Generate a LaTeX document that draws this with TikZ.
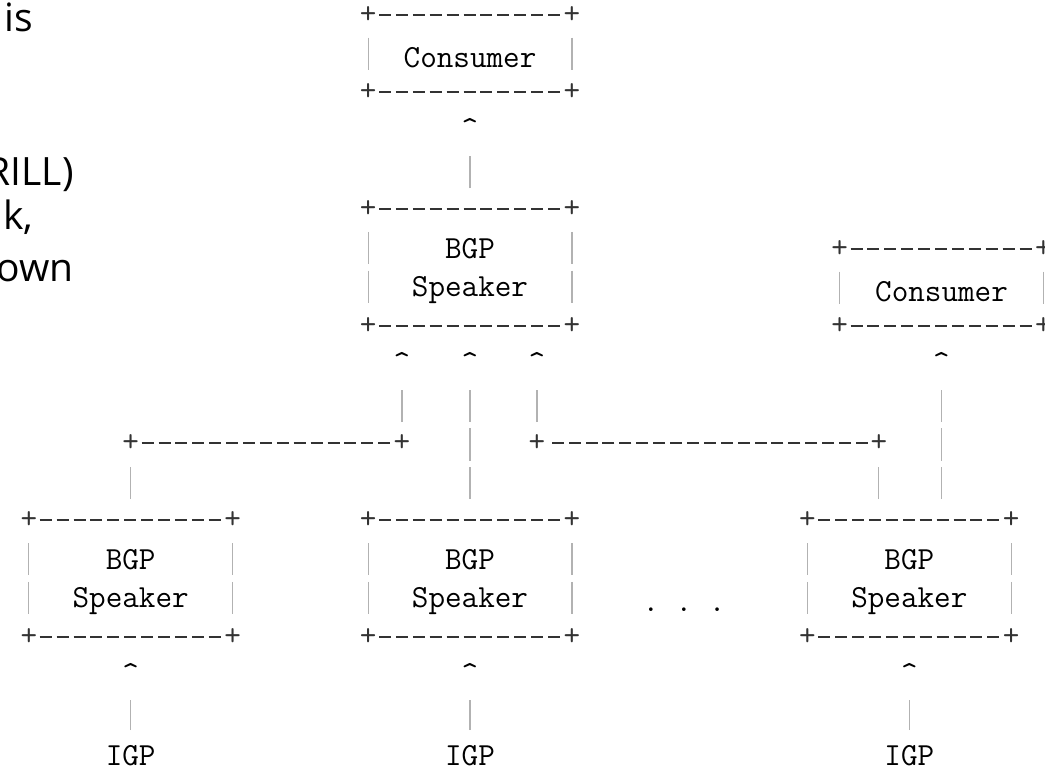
\documentclass[tikz,border=0pt]{standalone}
\usepackage{fontspec}
\newfontfamily\notefont{Open Sans}
\usetikzlibrary{positioning,calc}

\newcommand{\asciifont}{\fontsize{16.1pt}{19pt}\selectfont\ttfamily}

\begin{document}
\begin{tikzpicture}[
    x=0.5pt, y=-0.5pt,
    node distance=13pt,
    box/.style={rectangle, inner sep=0pt, align=center, text depth=0pt,
                minimum width=101.5pt, minimum height=58pt, font=\asciifont},
    thinbox/.style={box, minimum height=38.5pt, text height=14pt},
    ascii/.style={inner sep=0pt, font=\asciifont},
    cross/.style={ascii, text=black!80},
    hline/.style={draw=black!80, line width=1pt, dash pattern=on 6pt off 2.45pt,
                  shorten <=5.45pt, shorten >=5.45pt},
    vline/.style={draw=black!30, line width=0.6pt, dash pattern=on 16pt off 3.35pt},
    side/.style={vline, shorten <=11.5pt, shorten >=10.5pt},
    note/.style={inner sep=0pt, font=\fontsize{19.5pt}{24pt}\selectfont\notefont}
]
    \path[use as bounding box, clip] (0,0) rectangle (1045,770);

    % Cut-off text on the left
    \node (txtis) [note, anchor=base west] at (4,32) {is};
    \node (txtrill) [note, anchor=base east] at (74,186) {RILL)};
    \node (txtk) [note, anchor=base west] at (3,230) {k,};
    \node (txtown) [note, anchor=base east] at (74,282) {own};

    % Boxes
    \node (cons) [thinbox] at (470,53.5) {Consumer};
    \node (spk) [box, below=58.25pt of cons] {BGP\\Speaker};
    \node (consr) [thinbox] at (941.5,287.5) {Consumer};
    \node (spkm) [box, below=97.25pt of spk] {BGP\\Speaker};
    \node (spkl) [box, left=67.75pt of spkm] {BGP\\Speaker};
    \node (spkr) [box, right=117.75pt of spkm] {BGP\\Speaker};
    \node (dots) [ascii, anchor=base] at (684,611) {.\ .\ .};

    \foreach \b in {cons, spk, consr, spkl, spkm, spkr} {
        \draw[hline] (\b.north west) -- (\b.north east);
        \draw[hline] (\b.south west) -- (\b.south east);
        \draw[side] (\b.north west) -- (\b.south west);
        \draw[side] (\b.north east) -- (\b.south east);
        \foreach \c in {north west, north east, south west, south east}
            \node[cross] at (\b.\c) {+};
    }

    % IGP sources
    \node (igpl) [ascii, below=54pt of spkl] {IGP};
    \node (igpm) [ascii, below=54pt of spkm] {IGP};
    \node (igpr) [ascii, below=54pt of spkr] {IGP};

    % Carets
    \node (upc) [ascii, below=of cons] {\textasciicircum};
    \node (upl) [ascii, below=of spk, xshift=-34pt] {\textasciicircum};
    \node (upm) [ascii, below=of spk] {\textasciicircum};
    \node (upr) [ascii, below=of spk, xshift=33.5pt] {\textasciicircum};
    \node (upcr) [ascii, below=of consr] {\textasciicircum};
    \foreach \s in {spkl, spkm, spkr}
        \node (up\s) [ascii, below=of \s] {\textasciicircum};

    % Junctions
    \coordinate[above=38.5pt of spkl.north] (ja);
    \coordinate (jb) at (ja -| upl);
    \coordinate (jc) at (ja -| upr);
    \coordinate[above=38.5pt of spkr.north, xshift=-15.25pt] (jd);

    % Links
    \draw[vline, shorten <=10.25pt, shorten >=31.5pt] (spk) -- (cons);
    \draw[vline, shorten <=10.5pt, shorten >=31.75pt] (spkm) -- (spk);
    \draw[vline, shorten <=10.5pt, shorten >=11.5pt] (spkl) -- (ja);
    \draw[hline] (ja) -- (jb);
    \draw[vline, shorten <=10.5pt, shorten >=31.75pt] (jb) -- (jb |- spk.south);
    \draw[vline, shorten <=10.5pt, shorten >=11.5pt] (jd |- spkr.north) -- (jd);
    \draw[hline] (jd) -- (jc);
    \draw[vline, shorten <=10.5pt, shorten >=31.75pt] (jc) -- (jc |- spk.south);
    \draw[vline, shorten <=10.5pt, shorten >=30.75pt] (consr.south |- spkr.north) -- (consr);
    \foreach \n in {ja, jb, jc, jd}
        \node[cross] at (\n) {+};
    \foreach \s/\i in {spkl/igpl, spkm/igpm, spkr/igpr}
        \draw[vline, shorten <=7.5pt, shorten >=31.5pt] (\i) -- (\s);
\end{tikzpicture}
\end{document}
